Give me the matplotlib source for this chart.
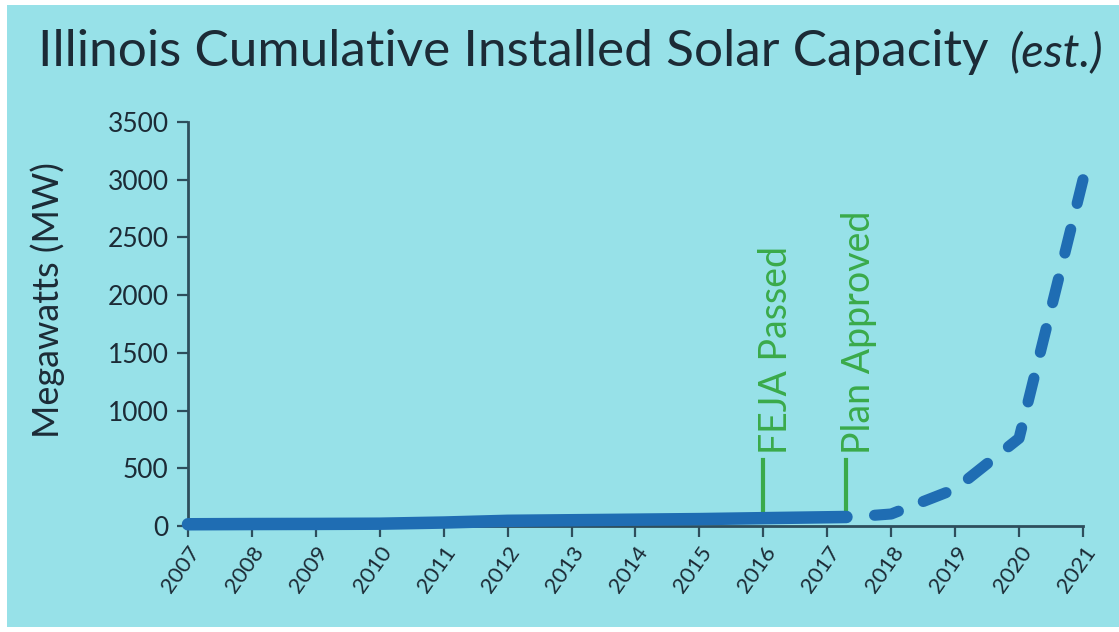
import matplotlib.pyplot as plt
import matplotlib.patches as mpatches

# installed capacity, MW (solid = recorded, dashed = projected)
years_actual = [2007, 2008, 2009, 2010, 2011, 2012, 2013, 2014, 2015, 2016, 2017.3]
mw_actual = [15, 17, 18, 20, 30, 45, 50, 55, 60, 68, 78]
years_proj = [2021, 2020, 2019, 2018, 2017.38]
mw_proj = [3000, 760, 320, 104, 78]

events = ["FEJA Passed", "Plan Approved"]
event_years = [2016, 2017.3]

year_ticks = list(range(2007, 2022))
mw_ticks = list(range(0, 3501, 500))

bg = "#97e1e8"
blue = "#1f6db3"
green = "#3aaa4a"
ink = "#1c2b36"
axis_c = "#2e4e5c"

plt.rcParams["font.family"] = ["Lato", "DejaVu Sans"]

fig = plt.figure(figsize=(11.19, 6.32), dpi=100)
fig.patch.set_facecolor("white")
fig.patches.append(mpatches.Rectangle((7 / 1119, 5 / 632), 1 - 7 / 1119, 1 - 10 / 632,
                                      transform=fig.transFigure, facecolor=bg,
                                      edgecolor="none", zorder=-5))

ax = fig.add_axes([188 / 1119, 1 - 526 / 632, (1083 - 188) / 1119, (526 - 122) / 632])
ax.set_facecolor("none")

ax.plot(years_actual, mw_actual, color=blue, lw=9, solid_capstyle="round", clip_on=False, zorder=3)
# projection drawn from 2021 backwards so the top end starts on a dash
ax.plot(years_proj, mw_proj, color=blue, lw=8, linestyle=(0, (2.2, 2.4)),
        dash_capstyle="round", clip_on=False, zorder=3)

for name, yr in zip(events, event_years):
    ax.plot([yr, yr], [140, 570], color=green, lw=3, zorder=2)
    ax.text(yr + 0.2, 620, name, rotation=90, color=green, fontsize=27,
            ha="center", va="bottom")

ax.set_xlim(2007, 2021)
ax.set_ylim(0, 3500)
ax.set_xticks(year_ticks)
ax.set_xticklabels([str(y) for y in year_ticks], rotation=55, ha="right",
                   rotation_mode="anchor", fontsize=16, color=ink)
ax.set_yticks(mw_ticks)
ax.set_yticklabels([str(v) for v in mw_ticks], fontsize=19, color=ink)
ax.tick_params(axis="both", direction="out", length=8, width=1.6, color=axis_c, pad=6)
ax.tick_params(axis="x", pad=4)

for side in ["top", "right"]:
    ax.spines[side].set_visible(False)
for side in ["left", "bottom"]:
    ax.spines[side].set_color(axis_c)
    ax.spines[side].set_linewidth(2)

ax.set_ylabel("Megawatts (MW)", fontsize=26, color=ink)
ax.yaxis.set_label_coords(-0.137, 0.56)

fig.text(38 / 1119, 1 - 66 / 632, "Illinois Cumulative Installed Solar Capacity",
         fontsize=37, color=ink, ha="left", va="baseline")
fig.text(1104 / 1119, 1 - 66 / 632, "(est.)", fontsize=34, style="italic",
         color=ink, ha="right", va="baseline")

fig.savefig("out.png", dpi=100, facecolor=fig.get_facecolor())
